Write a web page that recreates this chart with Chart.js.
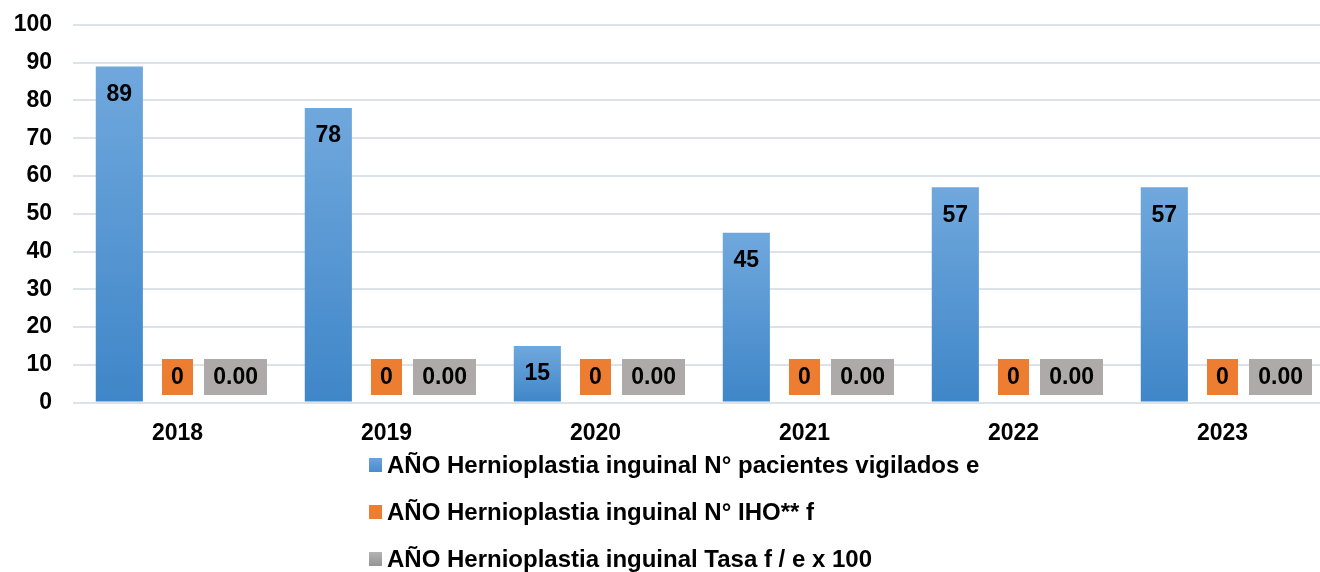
<!DOCTYPE html>
<html>
<head>
<meta charset="utf-8">
<script src="https://cdn.jsdelivr.net/npm/chart.js@4/dist/chart.umd.min.js"></script>
<style>
  html, body { margin: 0; padding: 0; background: #fff; overflow: hidden; }
  #wrap { position: relative; width: 1328px; height: 450px; }
  #legend { position: absolute; left: 369px; top: 441px; font: bold 24px "Liberation Sans", Arial, sans-serif; color: #000; }
  .item { height: 47px; display: flex; align-items: center; }
  .swatch { width: 13px; height: 14px; margin-right: 5px; }
</style>
</head>
<body>
<div id="wrap"><canvas id="chart"></canvas></div>
<div id="legend"></div>
<script>
//Categories and values
const years = ["2018", "2019", "2020", "2021", "2022", "2023"];
const vigilados = [89, 78, 15, 45, 57, 57];
const iho = [0, 0, 0, 0, 0, 0];
const tasa = [0, 0, 0, 0, 0, 0];
const seriesNames = [
  "AÑO Hernioplastia inguinal N° pacientes vigilados e",
  "AÑO Hernioplastia inguinal N° IHO** f",
  "AÑO Hernioplastia inguinal Tasa f / e x 100"
];
const yTicks = [0, 10, 20, 30, 40, 50, 60, 70, 80, 90, 100];

const FONT = '"Liberation Sans", Arial, sans-serif';

//blue bars get a gradient each, lighter on top
const blueFill = (ctx) => {
  const chart = ctx.chart;
  const y = chart.scales.y;
  if (ctx.type !== "data" || !y || !chart.chartArea) return "#5b9bd5";
  const top = y.getPixelForValue(ctx.raw);
  const bottom = y.getPixelForValue(0);
  const g = chart.ctx.createLinearGradient(0, top, 0, bottom);
  g.addColorStop(0, "#70a8dd");
  g.addColorStop(1, "#3f86c8");
  return g;
};

//value labels drawn on top of the bars
const labelPlugin = {
  id: "valueLabels",
  afterDatasetsDraw(chart) {
    const ctx = chart.ctx;
    ctx.save();
    ctx.font = "bold 23px " + FONT;
    ctx.textAlign = "center";
    ctx.textBaseline = "middle";
    chart.data.datasets.forEach((ds, di) => {
      const meta = chart.getDatasetMeta(di);
      meta.data.forEach((bar, i) => {
        const v = ds.data[i];
        if (di === 0) {
          ctx.fillStyle = "#000";
          ctx.fillText(String(v), bar.x, bar.y + 28);
        } else {
          const txt = di === 2 ? v.toFixed(2) : String(v);
          const w = ctx.measureText(txt).width + 18;
          const h = 36;
          const cy = bar.base - 26;
          ctx.fillStyle = ds.labelBox;
          ctx.fillRect(Math.round(bar.x - w / 2), Math.round(cy - h / 2), Math.round(w), h);
          ctx.fillStyle = "#000";
          ctx.fillText(txt, bar.x, cy + 1);
        }
      });
    });
    ctx.restore();
  }
};

const datasets = [
  { label: seriesNames[0], data: vigilados, backgroundColor: blueFill, legendColor: "linear-gradient(#6aa4dc, #4a8ccc)" },
  { label: seriesNames[1], data: iho, backgroundColor: "#ed7d31", labelBox: "#ed7d31", legendColor: "#ed7d31" },
  { label: seriesNames[2], data: tasa, backgroundColor: "#aeaaaa", labelBox: "#aeaaaa", legendColor: "linear-gradient(#b4b4b4, #949494)" }
];

new Chart(document.getElementById("chart"), {
  type: "bar",
  data: { labels: years, datasets: datasets },
  plugins: [labelPlugin],
  options: {
    responsive: true,
    maintainAspectRatio: false,
    animation: false,
    categoryPercentage: 0.835,
    barPercentage: 0.81,
    layout: { padding: { top: 25, right: 1, left: 0, bottom: 0 } },
    plugins: { legend: { display: false }, tooltip: { enabled: false } },
    scales: {
      x: {
        grid: { display: false, drawTicks: false },
        border: { display: false },
        ticks: { color: "#000", font: { family: FONT, size: 23, weight: "bold" }, padding: 17 },
        afterFit: (s) => { s.height = 47.5; s.paddingLeft = 0; s.paddingRight = 0; }
      },
      y: {
        min: 0,
        max: 100,
        afterBuildTicks: (s) => { s.ticks = yTicks.map((v) => ({ value: v })); },
        grid: { color: "#dde1e8", lineWidth: 2, drawTicks: false },
        border: { display: false },
        ticks: { color: "#000", font: { family: FONT, size: 23, weight: "bold" }, padding: 21 },
        afterFit: (s) => { s.width = 73; s.paddingTop = 0; s.paddingBottom = 0; }
      }
    }
  }
});

//legend, one series per line
const legend = document.getElementById("legend");
datasets.forEach((ds) => {
  const row = document.createElement("div");
  row.className = "item";
  const sw = document.createElement("span");
  sw.className = "swatch";
  sw.style.background = ds.legendColor;
  row.appendChild(sw);
  row.appendChild(document.createTextNode(ds.label));
  legend.appendChild(row);
});
</script>
</body>
</html>
